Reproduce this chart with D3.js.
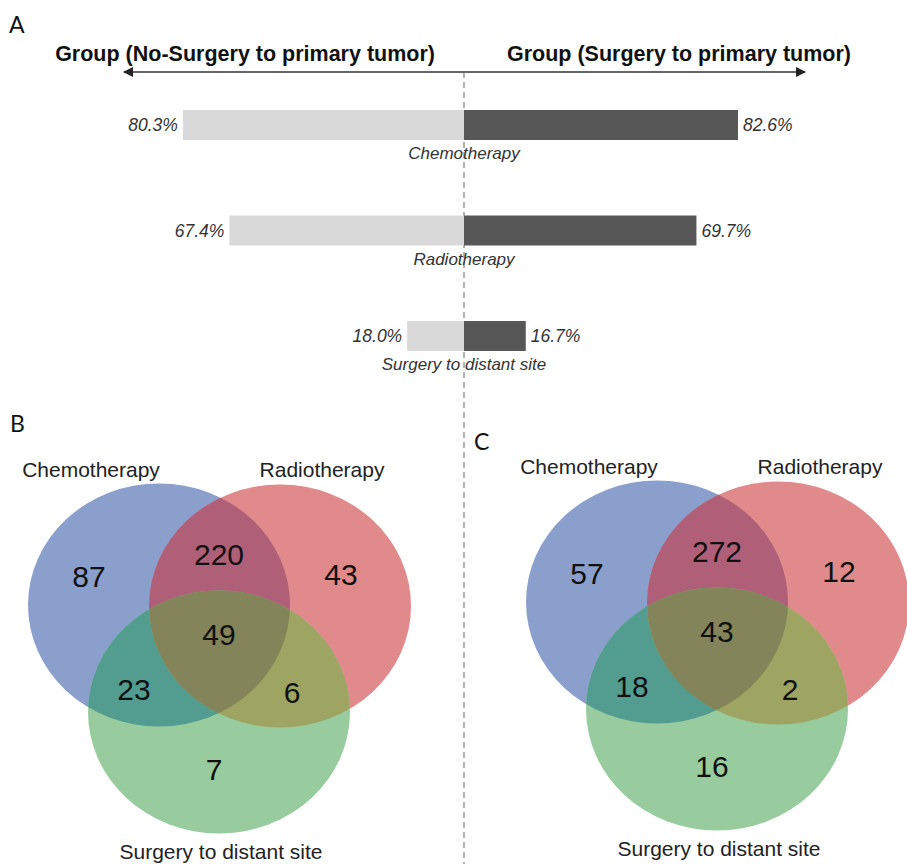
<!DOCTYPE html>
<html>
<head>
<meta charset="utf-8">
<script src="https://cdn.jsdelivr.net/npm/d3@7"></script>
<style>
  body { margin: 0; background: #fff; }
  svg { display: block; font-family: "Liberation Sans", Arial, sans-serif; }
</style>
</head>
<body>
<svg id="chart" width="907" height="864"></svg>
<script>
// panel A data
var treatments = ["Chemotherapy", "Radiotherapy", "Surgery to distant site"];
var noSurgeryPct = [80.3, 67.4, 18.0];
var surgeryPct = [82.6, 69.7, 16.7];
var groupTitles = ["Group (No-Surgery to primary tumor)", "Group (Surgery to primary tumor)"];

// panel B / C data (venn counts)
var vennSets = ["Chemotherapy", "Radiotherapy", "Surgery to distant site"];
var vennRegions = ["C", "CR", "R", "CRS", "CS", "RS", "S"];
var countsB = [87, 220, 43, 49, 23, 6, 7];
var countsC = [57, 272, 12, 43, 18, 2, 16];

var svg = d3.select("#chart");
var mid = 464;

// dashed divider
svg.append("line")
  .attr("x1", mid).attr("x2", mid)
  .attr("y1", 72).attr("y2", 864)
  .attr("stroke", "#808080")
  .attr("stroke-width", 1.2)
  .attr("stroke-dasharray", "6,4");

// panel letters
function letter(t, x, y) {
  svg.append("text").attr("x", x).attr("y", y)
    .attr("font-family", "Lato, 'Open Sans', sans-serif")
    .attr("font-size", 23).attr("fill", "#111").text(t);
}
letter("A", 9, 33);
letter("B", 10, 432);
letter("C", 474, 450);

// ---- panel A ----
var defs = svg.append("defs");
defs.append("marker").attr("id", "arr")
  .attr("viewBox", "0 0 10 10").attr("refX", 9).attr("refY", 5)
  .attr("markerWidth", 5).attr("markerHeight", 5)
  .attr("orient", "auto-start-reverse")
  .append("path").attr("d", "M0,0L10,5L0,10Z").attr("fill", "#222");

svg.append("line")
  .attr("x1", 124).attr("x2", 805)
  .attr("y1", 72).attr("y2", 72)
  .attr("stroke", "#666").attr("stroke-width", 2)
  .attr("marker-start", "url(#arr)")
  .attr("marker-end", "url(#arr)");

svg.append("text").attr("x", 435).attr("y", 61)
  .attr("text-anchor", "end").attr("font-weight", "bold")
  .attr("font-size", 21.5).attr("fill", "#111").text(groupTitles[0]);
svg.append("text").attr("x", 507).attr("y", 61)
  .attr("font-weight", "bold")
  .attr("font-size", 21.5).attr("fill", "#111").text(groupTitles[1]);

var y = d3.scalePoint().domain(treatments).range([110, 321]);
var barH = 30;
var xLeft = d3.scaleLinear().domain([0, 100]).range([472, 112]);
var xRight = d3.scaleLinear().domain([0, 100]).range([472, 794]);

var rows = treatments.map(function(t, i) {
  return {name: t, left: noSurgeryPct[i], right: surgeryPct[i]};
});

var gA = svg.append("g");
gA.selectAll(".lbar").data(rows).enter().append("rect")
  .attr("x", function(d) { return xLeft(d.left); })
  .attr("y", function(d) { return y(d.name); })
  .attr("width", function(d) { return mid - xLeft(d.left); })
  .attr("height", barH)
  .attr("fill", "#d9d9d9");

gA.selectAll(".rbar").data(rows).enter().append("rect")
  .attr("x", mid)
  .attr("y", function(d) { return y(d.name); })
  .attr("width", function(d) { return xRight(d.right) - mid; })
  .attr("height", barH)
  .attr("fill", "#575757");

gA.selectAll(".lval").data(rows).enter().append("text")
  .attr("x", function(d) { return xLeft(d.left) - 5; })
  .attr("y", function(d) { return y(d.name) + barH / 2 + 6; })
  .attr("text-anchor", "end").attr("font-style", "italic")
  .attr("font-size", 17.5).attr("fill", "#333")
  .text(function(d) { return d.left.toFixed(1) + "%"; });

gA.selectAll(".rval").data(rows).enter().append("text")
  .attr("x", function(d) { return xRight(d.right) + 5; })
  .attr("y", function(d) { return y(d.name) + barH / 2 + 6; })
  .attr("font-style", "italic")
  .attr("font-size", 17.5).attr("fill", "#333")
  .text(function(d) { return d.right.toFixed(1) + "%"; });

gA.selectAll(".cat").data(rows).enter().append("text")
  .attr("x", mid)
  .attr("y", function(d) { return y(d.name) + barH + 19; })
  .attr("text-anchor", "middle").attr("font-style", "italic")
  .attr("font-size", 17).attr("fill", "#333")
  .text(function(d) { return d.name; });

// ---- venn panels ----
var rx = 131, ry = 121.5;
var ellOff = [[-60, -36], [61, -35], [0, 71]];
var setColors = ["#8a9fcb", "#e08a8c", "#98cc9e"];
var regionOff = {
  "C": [-130, -64], "CR": [0, -86], "R": [122, -66], "CRS": [0, -6],
  "CS": [-85, 49], "RS": [73, 52], "S": [-5, 129]
};
var setLabelOff = [[-128, -164], [103, -164], [2, 218]];

function drawVenn(id, cx, cy, counts) {
  var g = svg.append("g").attr("transform", "translate(" + cx + "," + cy + ")");
  ellOff.forEach(function(o, i) {
    defs.append("clipPath").attr("id", id + "clip" + i)
      .append("ellipse").attr("cx", cx + o[0]).attr("cy", cy + o[1])
      .attr("rx", rx).attr("ry", ry);
  });
  function ell(sel, i, fill) {
    return sel.append("ellipse")
      .attr("cx", ellOff[i][0]).attr("cy", ellOff[i][1])
      .attr("rx", rx).attr("ry", ry).attr("fill", fill);
  }
  // plain sets
  g.selectAll(".set").data(vennSets).enter().append("ellipse")
    .attr("cx", function(d, i) { return ellOff[i][0]; })
    .attr("cy", function(d, i) { return ellOff[i][1]; })
    .attr("rx", rx).attr("ry", ry)
    .attr("fill", function(d, i) { return setColors[i]; });
  // pair overlaps
  var abs = svg.append("g");
  function clipped(clipId) {
    return abs.append("g").attr("clip-path", "url(#" + id + "clip" + clipId + ")")
      .append("g").attr("transform", "translate(" + cx + "," + cy + ")");
  }
  ell(clipped(0), 1, "#af6078");
  ell(clipped(0), 2, "#529d8f");
  ell(clipped(1), 2, "#9ea462");
  // triple overlap
  var inner = abs.append("g").attr("clip-path", "url(#" + id + "clip0)")
    .append("g").attr("clip-path", "url(#" + id + "clip1)")
    .append("g").attr("transform", "translate(" + cx + "," + cy + ")");
  ell(inner, 2, "#84845a");

  var gt = svg.append("g").attr("transform", "translate(" + cx + "," + cy + ")");
  gt.selectAll(".num").data(vennRegions).enter().append("text")
    .attr("x", function(d) { return regionOff[d][0]; })
    .attr("y", function(d) { return regionOff[d][1] + 10; })
    .attr("text-anchor", "middle")
    .attr("font-size", 30).attr("fill", "#111")
    .text(function(d, i) { return counts[i]; });
  gt.selectAll(".slab").data(vennSets).enter().append("text")
    .attr("x", function(d, i) { return setLabelOff[i][0]; })
    .attr("y", function(d, i) { return setLabelOff[i][1]; })
    .attr("text-anchor", "middle")
    .attr("font-size", 21).attr("fill", "#222")
    .text(function(d) { return d; });
}

drawVenn("b", 219, 641, countsB);
drawVenn("c", 717, 638, countsC);
</script>
</body>
</html>
